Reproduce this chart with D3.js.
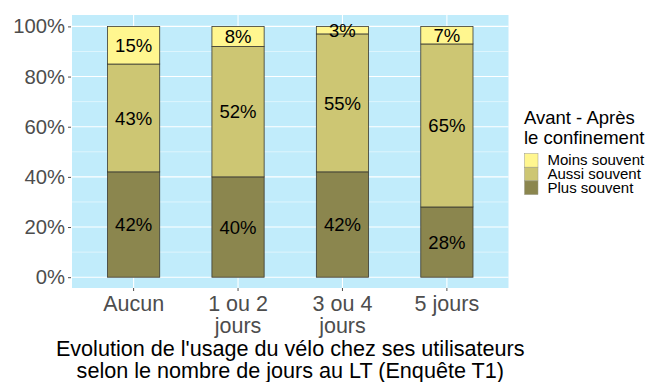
<!DOCTYPE html>
<html>
<head>
<meta charset="utf-8">
<script src="https://cdn.jsdelivr.net/npm/d3@7"></script>
<style>
  html, body { margin: 0; padding: 0; background: #ffffff; }
  svg { display: block; font-family: "Liberation Sans", Arial, sans-serif; }
</style>
</head>
<body>
<svg id="chart" width="646" height="382"></svg>
<script>
// Categories: number of days at the workplace
const categories = ["Aucun", "1 ou 2 jours", "3 ou 4 jours", "5 jours"];
const categoryLines = [["Aucun"], ["1 ou 2", "jours"], ["3 ou 4", "jours"], ["5 jours"]];

// Share of respondents (%) per answer, stacked from the bottom
const plusSouvent  = [42, 40, 42, 28];
const aussiSouvent = [43, 52, 55, 65];
const moinsSouvent = [15, 8, 3, 7];

const seriesNames = ["Plus souvent", "Aussi souvent", "Moins souvent"];
const seriesColors = ["#8B864E", "#CDC673", "#FFF68F"];

const yTicks = [0, 20, 40, 60, 80, 100];
const yMinor = [10, 30, 50, 70, 90];

const legendTitle = ["Avant - Après", "le confinement"];
const chartTitle = ["Evolution de l'usage du vélo chez ses utilisateurs",
                    "selon le nombre de jours au LT (Enquête T1)"];

const svg = d3.select("#chart");

// Panel geometry
const panel = { left: 72, right: 508.5, top: 15, bottom: 288 };

const x = d3.scaleBand()
  .domain(categories)
  .range([panel.left, panel.right])
  .paddingOuter(0.09)
  .paddingInner(0);
const barWidth = x.bandwidth() * 0.5;

const y = d3.scaleLinear()
  .domain([0, 100])
  .range([277.2, 26.4]);

// Build stacked data
const rows = categories.map((c, i) => ({
  cat: c,
  "Plus souvent": plusSouvent[i],
  "Aussi souvent": aussiSouvent[i],
  "Moins souvent": moinsSouvent[i]
}));
const stack = d3.stack().keys(seriesNames)(rows);

// Panel background
svg.append("rect")
  .attr("x", panel.left).attr("y", panel.top)
  .attr("width", panel.right - panel.left)
  .attr("height", panel.bottom - panel.top)
  .attr("fill", "#C1ECFB");

// Grid lines
const grid = svg.append("g");
grid.selectAll("line.minor").data(yMinor).join("line")
  .attr("x1", panel.left).attr("x2", panel.right)
  .attr("y1", d => y(d)).attr("y2", d => y(d))
  .attr("stroke", "#ffffff").attr("stroke-width", 0.6).attr("stroke-opacity", 0.8);
grid.selectAll("line.major").data(yTicks).join("line")
  .attr("x1", panel.left).attr("x2", panel.right)
  .attr("y1", d => y(d)).attr("y2", d => y(d))
  .attr("stroke", "#ffffff").attr("stroke-width", 1.1);
grid.selectAll("line.vert").data(categories).join("line")
  .attr("x1", d => x(d) + x.bandwidth() / 2).attr("x2", d => x(d) + x.bandwidth() / 2)
  .attr("y1", panel.top).attr("y2", panel.bottom)
  .attr("stroke", "#ffffff").attr("stroke-width", 1.1);

// Bars
const barsG = svg.append("g");
stack.forEach((layer, li) => {
  barsG.selectAll(null).data(layer).join("rect")
    .attr("x", d => x(d.data.cat) + (x.bandwidth() - barWidth) / 2)
    .attr("y", d => y(d[1]))
    .attr("width", barWidth)
    .attr("height", d => y(d[0]) - y(d[1]))
    .attr("fill", seriesColors[li])
    .attr("stroke", "#3a3a32")
    .attr("stroke-width", 0.8);
});

// Value labels at the middle of each segment
stack.forEach(layer => {
  svg.append("g").selectAll("text").data(layer).join("text")
    .attr("x", d => x(d.data.cat) + x.bandwidth() / 2)
    .attr("y", d => y((d[0] + d[1]) / 2))
    .attr("dy", "0.36em")
    .attr("text-anchor", "middle")
    .attr("font-size", "18.5px")
    .attr("fill", "#000000")
    .text(d => (d[1] - d[0]) + "%");
});

// Y axis
const yAxis = d3.axisLeft(y).tickValues(yTicks).tickFormat(d => d + "%").tickSize(3).tickPadding(3);
const yg = svg.append("g").attr("transform", `translate(${panel.left - 1},0)`).call(yAxis);
yg.select(".domain").remove();
yg.selectAll(".tick line").attr("stroke", "#4d4d4d");
yg.selectAll(".tick text").attr("fill", "#4d4d4d").attr("font-size", "20.3px")
  .attr("font-family", "'Liberation Sans', Arial, sans-serif");

// X axis
const xAxis = d3.axisBottom(x).tickSize(3).tickFormat(() => "");
const xg = svg.append("g").attr("transform", `translate(0,${panel.bottom})`).call(xAxis);
xg.select(".domain").remove();
xg.selectAll(".tick line").attr("stroke", "#4d4d4d");
xg.selectAll(".tick").each(function(d, i) {
  const t = d3.select(this).append("text")
    .attr("text-anchor", "middle")
    .attr("fill", "#4d4d4d")
    .attr("font-size", "21.5px")
    .attr("font-family", "'Liberation Sans', Arial, sans-serif");
  categoryLines[i].forEach((line, k) => {
    t.append("tspan").attr("x", 0).attr("y", 22.7 + k * 22.6).text(line);
  });
});

// Title below the chart
const title = svg.append("text")
  .attr("text-anchor", "middle")
  .attr("font-size", "21.6px")
  .attr("fill", "#000000");
chartTitle.forEach((line, k) => {
  title.append("tspan").attr("x", (panel.left + panel.right) / 2).attr("y", 356 + k * 22).text(line);
});

// Legend
const legend = svg.append("g").attr("transform", "translate(524,0)");
legendTitle.forEach((line, k) => {
  legend.append("text").attr("x", 0).attr("y", 123.5 + k * 20)
    .attr("font-size", "18.5px").attr("fill", "#000000").text(line);
});
const legendOrder = ["Moins souvent", "Aussi souvent", "Plus souvent"];
legendOrder.forEach((name, k) => {
  const ci = seriesNames.indexOf(name);
  legend.append("rect")
    .attr("x", 0.5).attr("y", 153.5 + k * 13.7)
    .attr("width", 13.5).attr("height", 13.7)
    .attr("fill", seriesColors[ci])
    .attr("stroke", "#9a9a8a").attr("stroke-width", 0.5);
  legend.append("text")
    .attr("x", 23.5).attr("y", 165 + k * 13.9)
    .attr("font-size", "15px").attr("fill", "#000000").text(name);
});
</script>
</body>
</html>
